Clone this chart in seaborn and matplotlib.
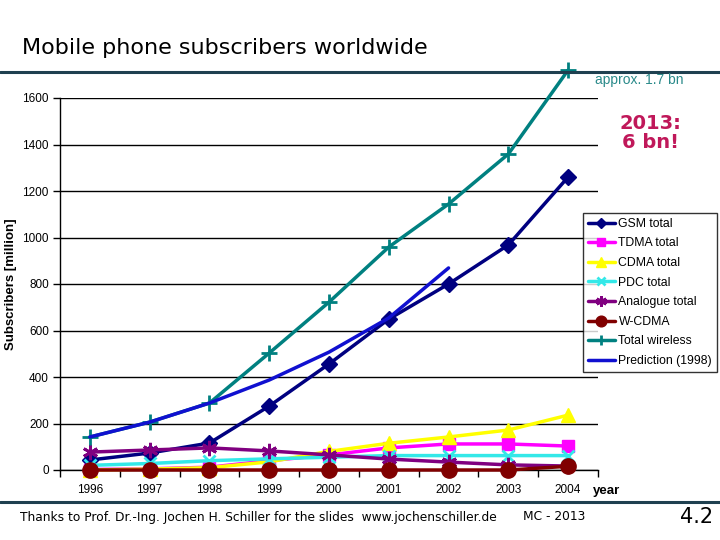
import matplotlib
matplotlib.use("Agg")
import matplotlib.pyplot as plt
import seaborn as sns
import numpy as np
import pandas as pd

# data (million subscribers)
years = [1996, 1997, 1998, 1999, 2000, 2001, 2002, 2003, 2004]
gsm = [43, 73, 116, 275, 456, 649, 800, 968, 1260]
tdma = [2, 5, 12, 40, 65, 95, 112, 112, 103]
cdma = [0, 4, 10, 35, 80, 115, 142, 172, 236]
pdc = [20, 28, 40, 48, 55, 62, 62, 62, 62]
analogue = [77, 86, 95, 82, 65, 47, 34, 22, 17]
wcdma = [0, 0, 0, 0, 0, 0, 0, 0, 16]
total_wireless = [142, 206, 288, 503, 722, 959, 1144, 1359, 1720]
pred_years = [1996, 1997, 1998, 1999, 2000, 2001, 2002]
prediction = [142, 206, 288, 387, 507, 654, 869]

sns.set_theme(style="white")
plt.rcParams['font.family'] = ['Liberation Sans', 'DejaVu Sans']
plt.rcParams['text.color'] = 'black'
plt.rcParams['xtick.color'] = 'black'
plt.rcParams['ytick.color'] = 'black'
plt.rcParams['axes.labelcolor'] = 'black'

fig = plt.figure(figsize=(7.2, 5.4), dpi=100)
ax = fig.add_axes([60/720, 70/540, 538/720, 372/540])

# series: name, x, y, colour, marker, marker size
series = [
    ("GSM total", years, gsm, "#000080", "D", 8),
    ("TDMA total", years, tdma, "#ff00ff", "s", 8),
    ("CDMA total", years, cdma, "#ffff00", "^", 10),
    ("PDC total", years, pdc, "#33e8e8", "x", 9),
    ("Analogue total", years, analogue, "#800080", (6, 2, 0), 11),
    ("W-CDMA", years, wcdma, "#800000", "o", 11),
    ("Total wireless", years, total_wireless, "#008080", "+", 11),
    ("Prediction (1998)", pred_years, prediction, "#1010d0", None, 0),
]
order = [6, 7, 0, 1, 2, 3, 4, 5]
for i in order:
    name, xs, ys, col, mk, ms = series[i]
    df = pd.DataFrame({"year": xs, "value": ys})
    sns.lineplot(data=df, x="year", y="value", ax=ax, color=col, marker=mk,
                 markersize=ms, markeredgewidth=2 if mk in ("x", "+", (6, 2, 0)) else 1,
                 markeredgecolor=col, linewidth=2.5, clip_on=False, label=name,
                 zorder=3 + i)
h, l = ax.get_legend_handles_labels()
lookup = dict(zip(l, h))
leg = ax.legend([lookup[s[0]] for s in series], [s[0] for s in series],
                loc="upper left", bbox_to_anchor=(523/538, 257/372), frameon=True,
                fancybox=False, fontsize=8.8, handlelength=2.2, handletextpad=0.3,
                labelspacing=0.62, borderpad=0.4, markerscale=0.7,
                borderaxespad=0)
leg.get_frame().set_edgecolor("black")
leg.get_frame().set_linewidth(1)

ax.set_xlim(1995.5, 2004.5)
ax.set_ylim(0, 1600)
ax.set_xticks(years)
ax.set_xticklabels([str(y) for y in years], fontsize=8.5)
ax.set_xticks(np.arange(1995.5, 2004.6, 1), minor=True)
ax.set_yticks(range(0, 1601, 200))
ax.set_yticklabels([str(v) for v in range(0, 1601, 200)], fontsize=8.5)
ax.tick_params(axis="x", which="major", length=0, pad=10)
ax.tick_params(axis="x", which="minor", length=5, width=1, color="black", direction="out", bottom=True)
ax.tick_params(axis="y", length=5, width=1, color="black", direction="out", left=True, pad=3)
ax.yaxis.grid(True, color="black", linewidth=1)
ax.set_axisbelow(True)
for s in ["top", "right"]:
    ax.spines[s].set_visible(False)
for s in ["left", "bottom"]:
    ax.spines[s].set_color("black")
    ax.spines[s].set_linewidth(1)
ax.set_xlabel("")
ax.set_ylabel("Subscribers [million]", fontsize=9.5, fontweight="bold", labelpad=4)

# slide decorations
fig.text(22/720, 1 - 48/540, "Mobile phone subscribers worldwide", fontsize=16,
         family="DejaVu Sans", va="center", ha="left", color="black")
fig.add_artist(plt.Line2D([0, 1], [1 - 72/540, 1 - 72/540], color="#1f4050", linewidth=2.2))
fig.add_artist(plt.Line2D([0, 1], [1 - 502/540, 1 - 502/540], color="#1f4050", linewidth=2.2))
fig.text(595/720, 1 - 80/540, "approx. 1.7 bn", fontsize=10, color="#2a8a8a", va="center")
fig.text(650/720, 1 - 133/540, "2013:\n6 bn!", fontsize=14, color="#c0185a",
         fontweight="bold", ha="center", va="center", linespacing=1.0, family="DejaVu Sans")
fig.text(593/720, 1 - 491/540, "year", fontsize=9.5, fontweight="bold", va="center")
fig.text(20/720, 1 - 517/540, "Thanks to Prof. Dr.-Ing. Jochen H. Schiller for the slides  www.jochenschiller.de",
         fontsize=8.8, va="center", family="DejaVu Sans")
fig.text(523/720, 1 - 517/540, "MC - 2013", fontsize=8.8, va="center", family="DejaVu Sans")
fig.text(680/720, 1 - 517/540, "4.2", fontsize=15, va="center", family="DejaVu Sans")

fig.savefig("out.png", dpi=100)
